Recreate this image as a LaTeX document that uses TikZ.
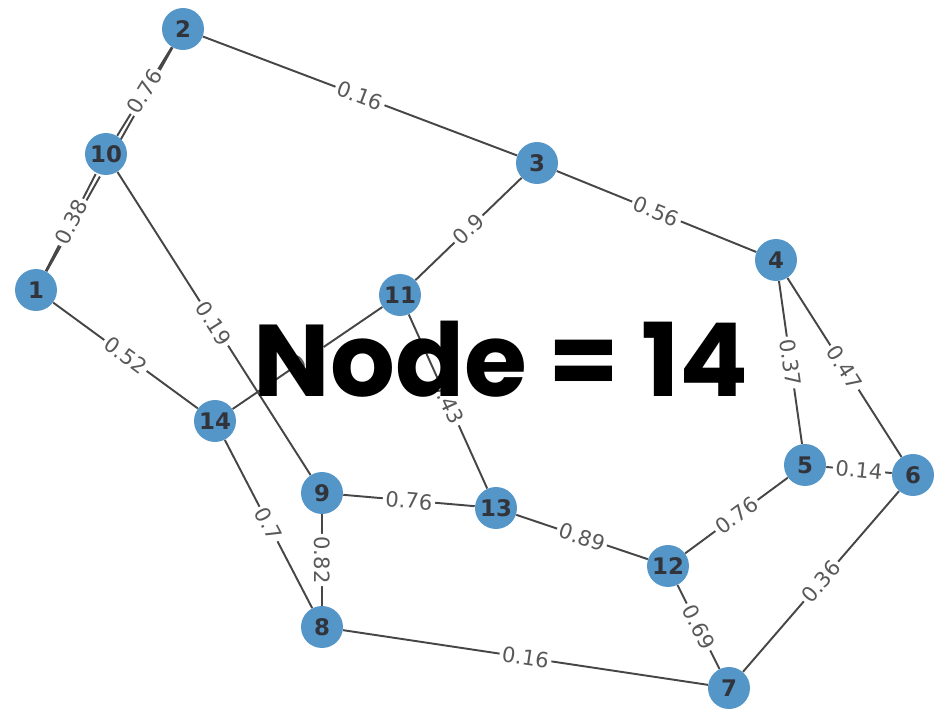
\documentclass[tikz,border=0pt]{standalone}
\usepackage{fontspec}
\setmainfont{DejaVu Sans}
\newfontfamily\cimfont{Poppins}
\usetikzlibrary{backgrounds}
\definecolor{csucskek}{RGB}{84,150,200}
\definecolor{elszurke}{RGB}{70,70,70}
\definecolor{szamszurke}{RGB}{50,52,60}
\pgfdeclarelayer{hatter}
\pgfdeclarelayer{kozep}
\pgfsetlayers{hatter,kozep,main}
\tikzset{
  csucs/.style={circle,fill=csucskek,minimum size=0.84cm,inner sep=0pt,
                font=\fontsize{13}{13}\selectfont\bfseries,text=szamszurke},
  el/.style={draw=elszurke,line width=1.1pt},
  suly/.style={sloped,midway,fill=white,inner sep=1.5pt,rounded corners=2pt,
               font=\fontsize{12}{12}\selectfont,text=black!65},
  cim/.style={font=\cimfont\bfseries\fontsize{58}{60}\selectfont,text=black},
}

\begin{document}
\begin{tikzpicture}[x=0.02cm,y=-0.02cm]
  \useasboundingbox (0,0) rectangle (938,714);
  % csucsok
  \node[csucs] (n1)  at (36,290)  {1};
  \node[csucs] (n2)  at (183,29)  {2};
  \node[csucs] (n3)  at (537,163) {3};
  \node[csucs] (n4)  at (776,260) {4};
  \node[csucs] (n5)  at (805,465) {5};
  \node[csucs] (n6)  at (913,475) {6};
  \node[csucs] (n7)  at (729,688) {7};
  \node[csucs] (n8)  at (322,627) {8};
  \node[csucs] (n9)  at (322,493) {9};
  \node[csucs] (n10) at (106,154) {10};
  \node[csucs] (n11) at (400,295) {11};
  \node[csucs] (n12) at (668,566) {12};
  \node[csucs] (n13) at (496,508) {13};
  \node[csucs] (n14) at (215,421) {14};
  % elek es sulyok
  \foreach \a/\b/\w in {1/10/0.38, 10/2/0.76, 1/2/0.5, 2/3/0.16, 3/4/0.56, 3/11/0.9,
      4/5/0.37, 4/6/0.47, 5/6/0.14, 5/12/0.76, 6/7/0.36, 12/7/0.69, 8/7/0.16,
      9/8/0.82, 14/8/0.7, 9/13/0.76, 13/12/0.89, 10/9/0.19, 11/13/0.43,
      14/11/0.6, 1/14/0.52} {
    \begin{pgfonlayer}{hatter}
      \draw[el] (n\a) -- (n\b);
    \end{pgfonlayer}
    \begin{pgfonlayer}{kozep}
      \path (n\a) -- node[suly] {\w} (n\b);
    \end{pgfonlayer}
  }
  % felirat
  \node[cim] (cim) at (501,359) {Node = 14};
\end{tikzpicture}
\end{document}
